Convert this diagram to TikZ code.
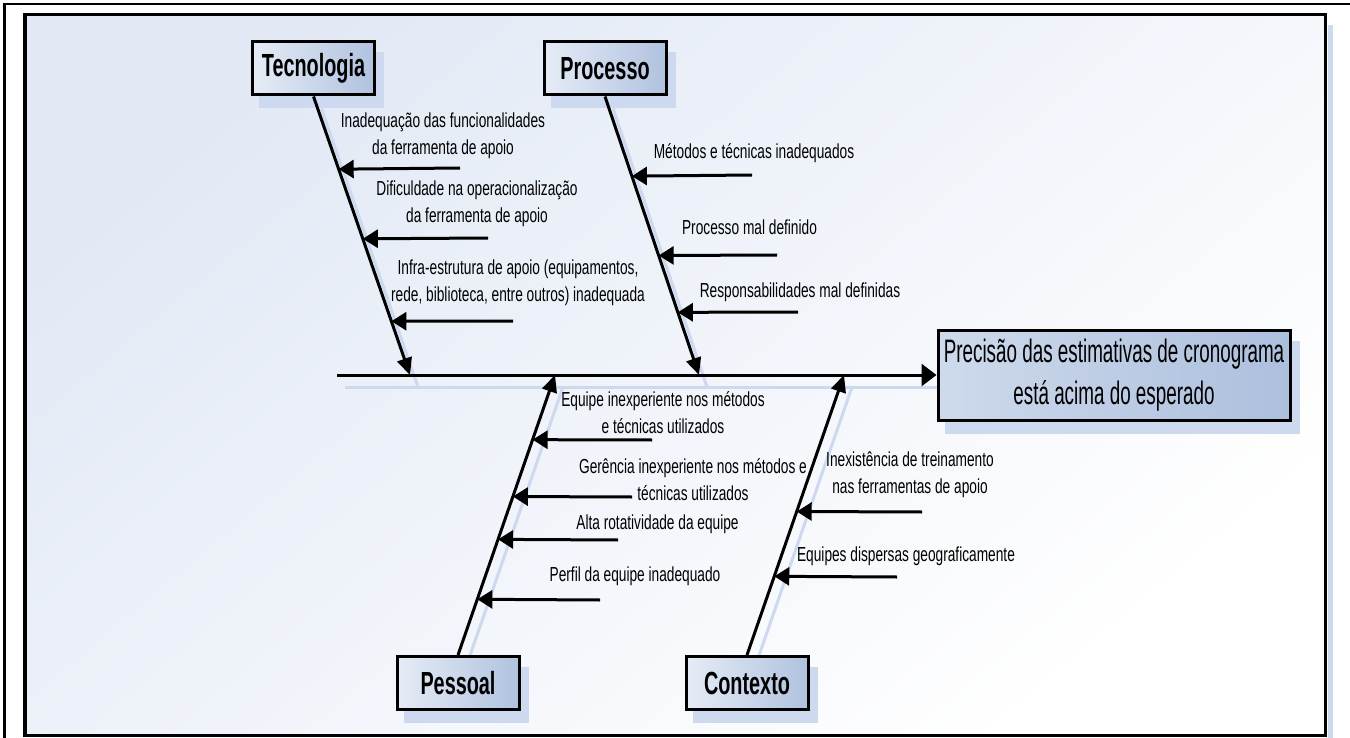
\documentclass[tikz,border=0pt]{standalone}
\usepackage{fontspec}
\setmainfont{Liberation Sans}
\newfontfamily\lblfont{Liberation Sans}[FakeStretch=0.675]
\newfontfamily\boxfont{Liberation Sans}[FakeStretch=0.62]
\newfontfamily\efffont{Liberation Sans}[FakeStretch=0.58]
\usetikzlibrary{arrows.meta,calc}

\definecolor{shadowblue}{RGB}{204,217,238}
\definecolor{boxlight}{RGB}{230,236,246}
\definecolor{boxdark}{RGB}{176,194,223}
\definecolor{efflight}{RGB}{206,218,236}
\definecolor{effdark}{RGB}{172,191,221}
\definecolor{bgtint}{RGB}{226,233,245}

\pgfdeclarelayer{bg}
\pgfdeclarelayer{shade}
\pgfsetlayers{bg,shade,main}

\begin{document}
\begin{tikzpicture}[x=1pt,y=-1pt,
  catbox/.style={draw=black, line width=3pt, left color=boxlight, right color=boxdark,
    minimum width=122pt, minimum height=53pt, inner sep=0pt,
    font=\boxfont\bfseries\fontsize{32}{36}\selectfont},
  effbox/.style={draw=black, line width=3pt, left color=efflight, right color=effdark,
    minimum width=352pt, minimum height=90pt, inner sep=0pt, align=center,
    font=\efffont\fontsize{32.5}{42}\selectfont},
  lbl/.style={inner sep=0pt, align=center, font=\lblfont\fontsize{20.3}{27}\selectfont},
  bone/.style={line width=3pt, -{Triangle[length=17pt,width=15pt]}},
  spine/.style={line width=3pt, -{Triangle[length=15pt,width=22pt]}},
  cause/.style={line width=3pt, -{Triangle[length=15pt,width=18pt]}},
  shadowline/.style={draw=shadowblue, line width=3pt},
  shadowfill/.style={fill=shadowblue},
  frame/.style={draw=black, line width=3.5pt}
]
\useasboundingbox (0,0) rectangle (1350,738);

% page, outer frame and tinted panel
\begin{pgfonlayer}{bg}
  \fill[white] (0,0) rectangle (1350,738);
  \shade[top color=bgtint, bottom color=white, shading angle=40] (25,14.5) rectangle (1325.5,735.5);
  \fill[shadowblue] (1328,25) rectangle (1333,760);
  \draw[frame] (25,14.5) rectangle (1325.5,735.5);
  \draw[draw=black, line width=2.5pt] (4.5,4) rectangle (1380,760);
\end{pgfonlayer}

% category boxes and effect
\node[catbox] (tec) at (313.5,68.5) {Tecnologia};
\node[catbox] (pro) at (605,68.5) {Processo};
\node[catbox] (pes) at (458,683) {Pessoal};
\node[catbox] (ctx) at (747,683) {Contexto};
\node[effbox] (eff) at (1114,375) {Precisão das estimativas de cronograma\\está acima do esperado};

% spine start and where each bone meets it
\coordinate (s0) at (337,375);
\coordinate (tecH) at (410,375);
\coordinate (proH) at (699,375);
\coordinate (pesH) at (555,375);
\coordinate (ctxH) at (844,375);

% soft shadows
\begin{pgfonlayer}{shade}
  \foreach \n in {tec,pro,pes,ctx,eff}
    \fill[shadowfill] ($(\n.south west)+(8,12)$) rectangle ($(\n.north east)+(8,12)$);
  \draw[shadowline] ($(s0)+(8,12)$) -- ($(eff.west)+(8,12)$);
  \draw[shadowline] ($(tec.south)+(8,12)$) -- ($(tecH)+(8,12)$);
  \draw[shadowline] ($(pro.south)+(8,12)$) -- ($(proH)+(8,12)$);
  \draw[shadowline] ($(pes.north)+(8,12)$) -- ($(pesH)+(8,12)$);
  \draw[shadowline] ($(ctx.north)+(8,12)$) -- ($(ctxH)+(8,12)$);
\end{pgfonlayer}

% spine and bones
\draw[spine] (s0) -- (eff.west);
\draw[bone] (tec.south) -- (tecH);
\draw[bone] (pro.south) -- (proH);
\draw[bone] (pes.north) -- (pesH);
\draw[bone] (ctx.north) -- (ctxH);

% Tecnologia causes
\coordinate (ta) at (460,168);
\coordinate (tb) at (488,238);
\coordinate (tc) at (513,321);
\draw[cause] (ta) -- ($(tec.south)!0.261!(tecH)$);
\draw[cause] (tb) -- ($(tec.south)!0.511!(tecH)$);
\draw[cause] (tc) -- ($(tec.south)!0.807!(tecH)$);
\node[lbl] (tal) at (443,136) {Inadequação das funcionalidades\\da ferramenta de apoio};
\node[lbl] (tbl) at (477,204) {Dificuldade na operacionalização\\da ferramenta de apoio};
\node[lbl] (tcl) at (518,283) {Infra-estrutura de apoio (equipamentos,\\rede, biblioteca, entre outros) inadequada};

% Processo causes
\coordinate (pa) at (752,175);
\coordinate (pb) at (777,255);
\coordinate (pc) at (798,312);
\draw[cause] (pa) -- ($(pro.south)!0.286!(proH)$);
\draw[cause] (pb) -- ($(pro.south)!0.571!(proH)$);
\draw[cause] (pc) -- ($(pro.south)!0.775!(proH)$);
\node[lbl] (pal) at (754,153) {Métodos e técnicas inadequados};
\node[lbl] (pbl) at (749.5,227) {Processo mal definido};
\node[lbl] (pcl) at (800,292) {Responsabilidades mal definidas};

% Pessoal causes
\coordinate (sa) at (652,440);
\coordinate (sb) at (632,497);
\coordinate (sc) at (618,540);
\coordinate (sd) at (600,600);
\draw[cause] (sa) -- ($(pesH)!0.231!(pes.north)$);
\draw[cause] (sb) -- ($(pesH)!0.434!(pes.north)$);
\draw[cause] (sc) -- ($(pesH)!0.587!(pes.north)$);
\draw[cause] (sd) -- ($(pesH)!0.801!(pes.north)$);
\node[lbl] (sal) at (663,413) {Equipe inexperiente nos métodos\\e técnicas utilizados};
\node[lbl] (sbl) at (693,480) {Gerência inexperiente nos métodos e\\técnicas utilizados};
\node[lbl] (scl) at (657.5,524) {Alta rotatividade da equipe};
\node[lbl] (sdl) at (635,576) {Perfil da equipe inadequado};

% Contexto causes
\coordinate (ca) at (922,512);
\coordinate (cb) at (897,577);
\draw[cause] (ca) -- ($(ctxH)!0.4875!(ctx.north)$);
\draw[cause] (cb) -- ($(ctxH)!0.719!(ctx.north)$);
\node[lbl] (cal) at (910,475) {Inexistência de treinamento\\nas ferramentas de apoio};
\node[lbl] (cbl) at (906,556) {Equipes dispersas geograficamente};
\end{tikzpicture}
\end{document}
